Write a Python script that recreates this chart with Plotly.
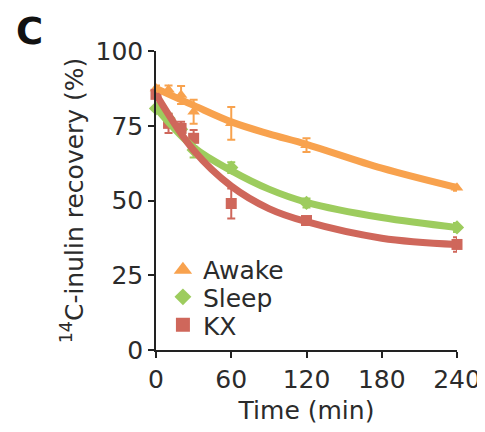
import plotly.graph_objects as go

# Measured data (mean, error)
time_pts = [0, 10, 20, 30, 60, 120, 240]
awake_vals = [87.5, 87.0, 85.3, 79.7, 75.8, 68.5, 54.3]
awake_err = [1.0, 1.5, 3.0, 4.0, 5.5, 2.3, 1.0]
sleep_vals = [80.8, 77.5, 73.8, 66.9, 61.0, 49.2, 41.0]
sleep_err = [1.0, 1.5, 1.5, 2.5, 1.8, 1.5, 1.5]
kx_vals = [85.5, 75.8, 74.1, 70.8, 49.0, 43.3, 35.3]
kx_err = [1.0, 3.2, 2.2, 2.8, 5.0, 1.2, 2.4]

# Fitted curves
curve_t = [0, 30, 60, 90, 120, 180, 240]
awake_curve = [87.5, 81.8, 76.3, 72.3, 68.8, 60.8, 54.3]
sleep_curve = [81.0, 67.8, 60.0, 53.8, 49.4, 44.3, 41.0]
kx_curve = [85.5, 66.8, 54.8, 47.3, 42.9, 37.4, 35.3]

names = ["Awake", "Sleep", "KX"]
colors = ["#F8A24E", "#9DCC5E", "#CF675B"]
symbols = ["triangle-up", "diamond", "square"]
legend_sizes = [16, 13, 14]
legend_ids = ["legend", "legend2", "legend3"]

FONT = "DejaVu Sans, Liberation Sans, Arial, sans-serif"
TXT = "#2b2b2b"

fig = go.Figure()
for name, vals, err, col, sym in zip(names, [awake_vals, sleep_vals, kx_vals],
                                     [awake_err, sleep_err, kx_err], colors, symbols):
    fig.add_trace(go.Scatter(x=time_pts, y=vals, mode="markers", name=name,
                             showlegend=False,
                             marker=dict(color=col, symbol=sym, size=11),
                             error_y=dict(type="data", array=err, color=col,
                                          thickness=2, width=4),
                             cliponaxis=False))

for vals, col in zip([awake_curve, sleep_curve, kx_curve], colors):
    fig.add_trace(go.Scatter(x=curve_t, y=vals, mode="lines",
                             line=dict(color=col, width=7, shape="spline", smoothing=1.0),
                             showlegend=False, hoverinfo="skip", cliponaxis=False))

# legend entries (legend-only proxies with larger symbols)
for name, col, sym, sz, lg in zip(names, colors, symbols, legend_sizes, legend_ids):
    fig.add_trace(go.Scatter(x=[None], y=[None], mode="markers", name=name, legend=lg,
                             marker=dict(color=col, symbol=sym, size=sz)))

axis_font = dict(family=FONT, size=25, color=TXT)
leg_common = dict(x=0.023, xanchor="left", yanchor="middle",
                  font=dict(family=FONT, size=25, color=TXT),
                  bgcolor="rgba(0,0,0,0)", itemwidth=30, borderwidth=0)
# page body has an 8px margin, so the figure is 8px smaller and margins shifted
fig.update_layout(
    width=477, height=424,
    margin=dict(l=148, r=28, t=43, b=82),
    plot_bgcolor="white", paper_bgcolor="white",
    font=axis_font,
    showlegend=True,
    legend=dict(y=0.2676, **leg_common),
    legend2=dict(y=0.177, **leg_common),
    legend3=dict(y=0.0836, **leg_common),
    xaxis=dict(range=[0, 240], tickvals=[0, 60, 120, 180, 240], automargin=False,
               showline=True, linecolor="#222", linewidth=1.5,
               ticks="outside", ticklen=6, tickcolor="#222", tickwidth=1.5,
               showgrid=False, zeroline=False, tickfont=axis_font,
               title=dict(text="Time (min)", font=axis_font, standoff=9)),
    yaxis=dict(range=[0, 100], tickvals=[0, 25, 50, 75, 100], automargin=False,
               showline=True, linecolor="#222", linewidth=1.5,
               ticks="outside", ticklen=6, tickcolor="#222", tickwidth=1.5,
               showgrid=False, zeroline=False, tickfont=axis_font,
               title=dict(text="<sup>14</sup>C-inulin recovery (%)", font=axis_font, standoff=5)),
)
fig.add_annotation(text="<b>C</b>", xref="paper", yref="paper",
                   x=(29.5 - 156) / 301, y=1 + (51 - 31.5) / 299,
                   xanchor="center", yanchor="middle", showarrow=False,
                   font=dict(family=FONT, size=37, color="#111"))
fig.write_html("out.html")
